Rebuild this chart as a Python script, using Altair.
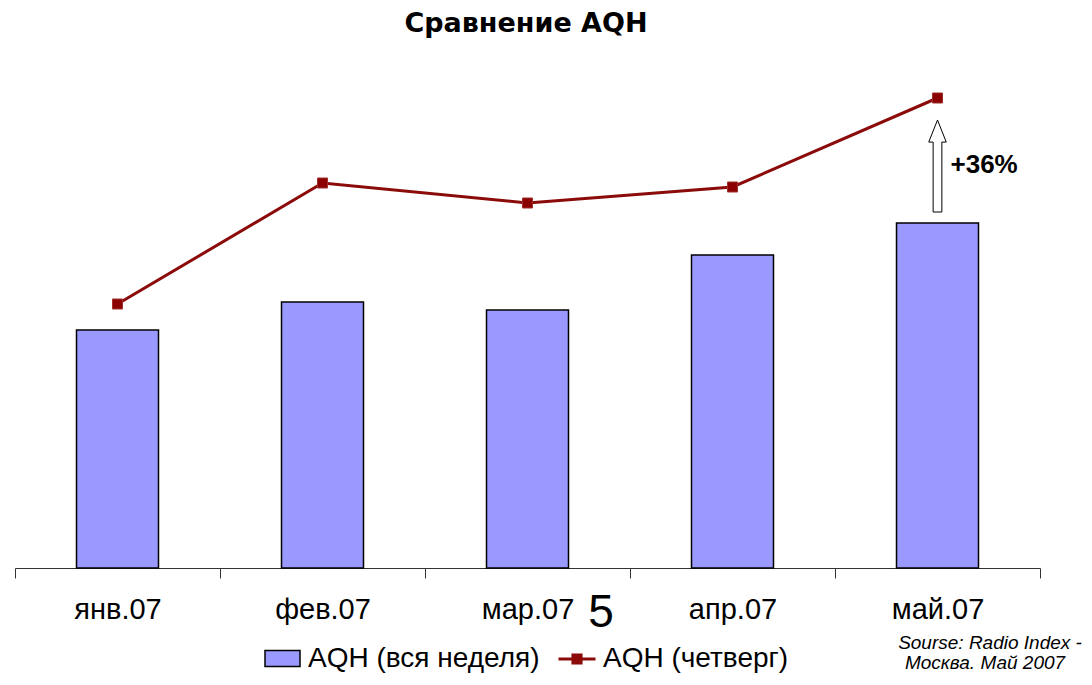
import altair as alt
import pandas as pd

months = ["янв.07", "фев.07", "мар.07", "апр.07", "май.07"]
aqh_week = [2.38, 2.66, 2.58, 3.13, 3.45]
aqh_thursday = [2.64, 3.85, 3.65, 3.81, 4.70]
series_week = "AQH (вся неделя)"
series_thu = "AQH (четверг)"
arrow_month = ["май.07"]
arrow_base = [3.56]
arrow_tip = [4.48]
title_text = ["Сравнение AQH"]
source_lines = ["Sourse: Radio Index -", "Москва. Май 2007"]
page_number = ["5"]

FONT = "Liberation Sans"
BAR_FILL = "#9999FF"
LINE_COL = "#8B0A0A"

df_week = pd.DataFrame({"month": months, "value": aqh_week, "series": series_week})
df_thu = pd.DataFrame({"month": months, "value": aqh_thursday, "series": series_thu})
pct = round((aqh_thursday[-1] / aqh_week[-1] - 1) * 100)
df_arrow = pd.DataFrame({
    "month": arrow_month,
    "mid": [(b + t) / 2 for b, t in zip(arrow_base, arrow_tip)],
    "label": [f"+{pct}%"],
})

x_enc = alt.X(
    "month:N", sort=months,
    scale=alt.Scale(paddingInner=0, paddingOuter=0),
    axis=alt.Axis(
        title=None, tickBand="extent", labelAngle=0, labelFont=FONT,
        labelFontSize=29, labelColor="black", domainColor="#333333",
        tickColor="#333333", tickSize=10, labelPadding=17, domainWidth=1,
        tickWidth=1, grid=False,
    ),
)
x_plain = alt.X("month:N", sort=months)
y_scale = alt.Scale(domain=[0, 5.1], nice=False, zero=True)

bars = alt.Chart(df_week).mark_bar(
    stroke="black", strokeWidth=1.5, width=alt.RelativeBandSize(0.4)
).encode(
    x=x_enc,
    y=alt.Y("value:Q", scale=y_scale, axis=None),
    fill=alt.Fill(
        "series:N",
        scale=alt.Scale(domain=[series_week], range=[BAR_FILL]),
        legend=alt.Legend(
            orient="none", legendX=249, legendY=582, title=None, padding=0,
            symbolType="M-1,-0.46H1V0.46H-1Z", symbolSize=1225,
            symbolStrokeColor="black", symbolStrokeWidth=1.5,
            labelFont=FONT, labelFontSize=28, labelColor="black",
            labelLimit=0, labelOffset=7,
        ),
    ),
)

line = alt.Chart(df_thu).mark_line(strokeWidth=3).encode(
    x=x_plain,
    y=alt.Y("value:Q", scale=y_scale, axis=None),
    stroke=alt.Stroke(
        "series:N",
        scale=alt.Scale(domain=[series_thu], range=[LINE_COL]),
        legend=alt.Legend(
            orient="none", legendX=542, legendY=581, title=None, padding=0,
            symbolType="M-1,0H1M-0.22,-0.22H0.22V0.22H-0.22Z", symbolSize=1369,
            symbolStrokeWidth=3, symbolStrokeColor=LINE_COL,
            symbolFillColor=LINE_COL,
            labelFont=FONT, labelFontSize=28, labelColor="black",
            labelLimit=0, labelOffset=6,
        ),
    ),
)

points = alt.Chart(df_thu).mark_point(
    shape="square", size=100, filled=True, fill="#8B0000",
    stroke="#A0302A", strokeWidth=1, opacity=1,
).encode(
    x=x_plain,
    y=alt.Y("value:Q", scale=y_scale, axis=None),
)

arrow = alt.Chart(df_arrow).mark_point(
    shape="M-0.095,1L-0.095,-0.52L-0.19,-0.52L0,-1L0.19,-0.52L0.095,-0.52L0.095,1Z",
    size=8464, filled=True, fill="white", stroke="black", strokeWidth=1, opacity=1,
).encode(
    x=x_plain,
    y=alt.Y("mid:Q", scale=y_scale, axis=None),
)

pct_text = alt.Chart(df_arrow).mark_text(
    font=FONT, fontSize=26, fontWeight="bold", align="left", baseline="middle",
    dx=13, dy=-1, color="black",
).encode(
    x=x_plain,
    y=alt.Y("mid:Q", scale=y_scale, axis=None),
    text="label:N",
)

title = alt.Chart(pd.DataFrame({"t": title_text})).mark_text(
    font="DejaVu Sans", fontSize=27, fontWeight="bold", align="center",
    baseline="alphabetic", color="black",
).encode(x=alt.value(511), y=alt.value(-26), text="t:N")

page_text = alt.Chart(pd.DataFrame({"t": page_number})).mark_text(
    font=FONT, fontSize=46, align="center", baseline="middle", color="black",
).encode(x=alt.value(586), y=alt.value(555), text="t:N")

src1 = alt.Chart(pd.DataFrame({"t": source_lines[:1]})).mark_text(
    font=FONT, fontSize=19, fontStyle="italic", align="center",
    baseline="middle", color="black",
).encode(x=alt.value(975), y=alt.value(585), text="t:N")

src2 = alt.Chart(pd.DataFrame({"t": source_lines[1:]})).mark_text(
    font=FONT, fontSize=19, fontStyle="italic", align="center",
    baseline="middle", color="black",
).encode(x=alt.value(970), y=alt.value(605), text="t:N")

chart = alt.layer(
    bars, line, points, arrow, pct_text, title, page_text, src1, src2
).resolve_scale(fill="independent", stroke="independent").properties(
    width=1025, height=510,
    autosize=alt.AutoSizeParams(type="none"),
    padding={"left": 7, "top": 50, "right": 44, "bottom": 105},
).configure(
    background="white", view=alt.ViewConfig(stroke=None)
)

chart.save("out.html", embed_options={"renderer": "svg", "actions": False})
